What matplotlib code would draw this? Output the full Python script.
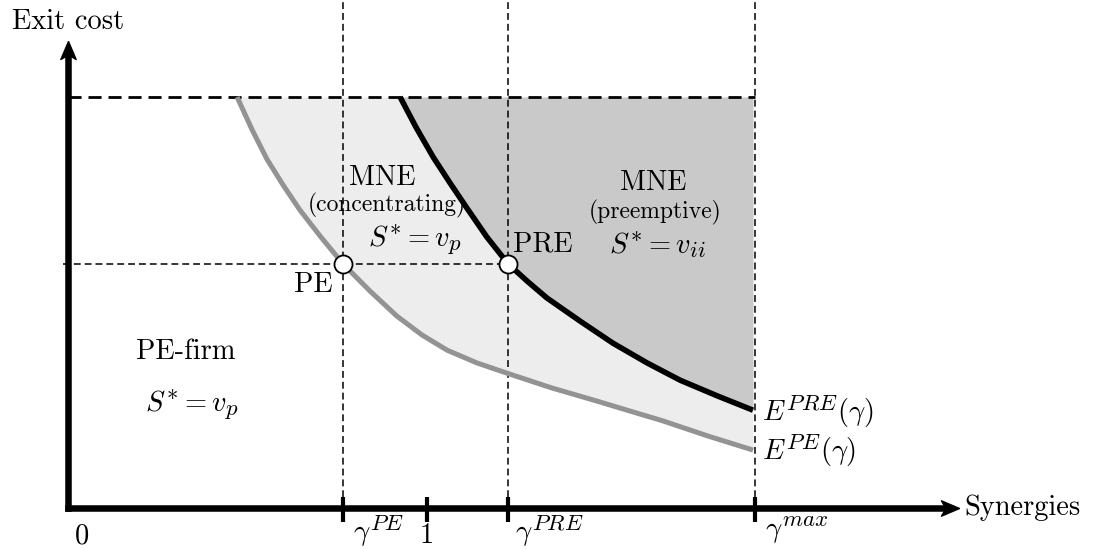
import numpy as np
import matplotlib as mpl

mpl.use('agg')

import matplotlib.pyplot as plt
import matplotlib._mathtext as mathtext_internals

plt.rcParams['font.family'] = 'serif'
plt.rcParams['font.serif'] = ['cmr10', 'DejaVu Serif']
plt.rcParams['mathtext.fontset'] = 'cm'
plt.rcParams['axes.unicode_minus'] = False
# LaTeX script sizes look wider than mathtext's default 0.7 shrink
mathtext_internals.SHRINK_FACTOR = 0.8

# thresholds on the synergy axis (1 = no synergies)
gamma_pe = 0.766
gamma_one = 1.0
gamma_pre = 1.226
gamma_max = 1.914
e_star = 0.594      # exit cost at PE / PRE
e_top = 1.0         # upper bound of exit cost

# E^PE(gamma) boundary (grey)
pe_x = [0.471, 0.513, 0.554, 0.599, 0.646, 0.702, 0.766, 0.841, 0.916, 0.986,
        1.056, 1.139, 1.223, 1.348, 1.474, 1.565, 1.657, 1.783, 1.908]
pe_y = [1.000, 0.920, 0.849, 0.786, 0.725, 0.662, 0.594, 0.528, 0.467, 0.421,
        0.384, 0.353, 0.328, 0.292, 0.260, 0.236, 0.212, 0.175, 0.141]

# E^PRE(gamma) boundary (black)
pre_x = [0.925, 0.969, 1.017, 1.064, 1.111, 1.167, 1.226, 1.279, 1.334, 1.426,
         1.518, 1.613, 1.705, 1.808, 1.908]
pre_y = [1.000, 0.927, 0.854, 0.791, 0.730, 0.659, 0.594, 0.552, 0.511, 0.455,
         0.401, 0.353, 0.311, 0.273, 0.238]

tick_pos = [gamma_pe, gamma_one, gamma_pre, gamma_max]

# frame of the original: origin at (68, 508) px, 359 px per x unit, 411 px per y unit
fig = plt.figure(figsize=(10.95, 5.5), dpi=100)
ax = fig.add_axes([0, 0, 1, 1])
ax.set_xlim(-68 / 359, (1095 - 68) / 359)
ax.set_ylim(-42 / 411, 508 / 411)
ax.axis('off')

light = '#ededed'
dark = '#c9c9c9'

ax.fill_between(pe_x, pe_y, e_top, color=light, lw=0, zorder=1)
ax.fill_between(pre_x, pre_y, e_top, color=dark, lw=0, zorder=1)

# dashed guides
ytop = 508 / 411
for g in [gamma_pe, gamma_pre, gamma_max]:
    ax.plot([g, g], [0, ytop], color='k', lw=1.1, dashes=(4.5, 2.6), zorder=2)
ax.plot([-0.015, gamma_pre], [e_star, e_star], color='k', lw=1.1, dashes=(4.5, 2.6), zorder=2)
ax.plot([0, gamma_max], [e_top, e_top], color='k', lw=2.0, dashes=(4.7, 2.5), zorder=2)

# boundaries
ax.plot(pe_x, pe_y, color='#939393', lw=3.6, solid_capstyle='butt', solid_joinstyle='round', zorder=3)
ax.plot(pre_x, pre_y, color='k', lw=4.0, solid_capstyle='butt', solid_joinstyle='round', zorder=3)

# axes with arrow heads
x_tip = (958 - 68) / 359
y_tip = (508 - 42) / 411
ax.plot([0, x_tip - 0.03], [0, 0], color='k', lw=4.7, solid_capstyle='projecting', zorder=4)
ax.plot([0, 0], [0, y_tip - 0.03], color='k', lw=4.7, solid_capstyle='projecting', zorder=4)
head_r = [(1, 0), (-1, -0.85), (-0.5, 0), (-1, 0.85), (1, 0)]
head_u = [(0, 1), (-0.85, -1), (0, -0.5), (0.85, -1), (0, 1)]
ax.plot(x_tip - 8 / 359, 0, marker=head_r, ms=13, color='k', mec='k', zorder=5)
ax.plot(0, y_tip - 8 / 411, marker=head_u, ms=13, color='k', mec='k', zorder=5)

for t in tick_pos:
    ax.plot([t, t], [0.027, -0.034], color='k', lw=3.0, solid_capstyle='butt', zorder=4)

# equilibrium points
ax.plot([gamma_pe, gamma_pre], [e_star, e_star], 'o', ms=13, mfc='white', mec='k', mew=1.3, zorder=6)

fs = 20.5
fs_small = 17
ax.text(0, 1.182, 'Exit cost', fontsize=fs, ha='center', va='center')
ax.text(2.497, 0, 'Synergies', fontsize=fs, ha='left', va='center')
ax.text(0.039, -0.068, '0', fontsize=fs, ha='center', va='center')
ax.text(gamma_one, -0.068, '1', fontsize=fs, ha='center', va='center')
ax.text(0.794, -0.054, r'$\gamma^{PE}$', fontsize=fs, ha='left', va='center')
ax.text(1.245, -0.054, r'$\gamma^{PRE}$', fontsize=fs, ha='left', va='center')
ax.text(1.942, -0.054, r'$\gamma^{max}$', fontsize=fs, ha='left', va='center')

ax.text(0.738, 0.543, 'PE', fontsize=fs, ha='right', va='center')
ax.text(1.240, 0.642, 'PRE', fontsize=fs, ha='left', va='center')

ax.text(0.875, 0.803, 'MNE', fontsize=fs, ha='center', va='center')
ax.text(0.889, 0.737, '(concentrating)', fontsize=fs_small, ha='center', va='center')
ax.text(0.967, 0.652, r'$S^{*}=v_p$', fontsize=fs, ha='center', va='center')

ax.text(1.630, 0.791, 'MNE', fontsize=fs, ha='center', va='center')
ax.text(1.635, 0.718, '(preemptive)', fontsize=fs_small, ha='center', va='center')
ax.text(1.641, 0.640, r'$S^{*}=v_{ii}$', fontsize=fs, ha='center', va='center')

ax.text(0.329, 0.380, 'PE-firm', fontsize=fs, ha='center', va='center')
ax.text(0.345, 0.251, r'$S^{*}=v_p$', fontsize=fs, ha='center', va='center')

ax.text(1.933, 0.236, r'$E^{PRE}(\gamma)$', fontsize=fs, ha='left', va='center')
ax.text(1.933, 0.141, r'$E^{PE}(\gamma)$', fontsize=fs, ha='left', va='center')

fig.savefig('out.png', dpi=100)
